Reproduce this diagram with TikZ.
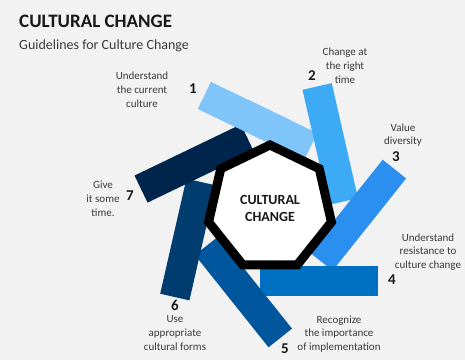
\documentclass[tikz,border=0pt]{standalone}
\usepackage{fontspec}
\setmainfont{Carlito}
\definecolor{bggray}{HTML}{F2F2F2}
\definecolor{txtgray}{HTML}{3A3A3A}
\definecolor{barone}{HTML}{80C5FA}
\definecolor{bartwo}{HTML}{3DAAF6}
\definecolor{barthree}{HTML}{2A8FEF}
\definecolor{barfour}{HTML}{0070C2}
\definecolor{barfive}{HTML}{00569C}
\definecolor{barsix}{HTML}{003C6E}
\definecolor{barseven}{HTML}{00254C}
\tikzstyle{itemtext}=[align=center, font=\fontsize{11}{13.8}\selectfont, text=txtgray, inner sep=0]
\tikzstyle{itemnum}=[font=\fontsize{15}{15}\selectfont\bfseries, text=black!90, inner sep=0]
\tikzstyle{heptaline}=[line width=9, line join=miter, fill=white, draw=black]
\newcommand{\drawbar}[2]{
  \begin{scope}[shift={(270,152)}, rotate=#1]
    \fill[#2] (-10,-88) rectangle (108,-58);
  \end{scope}
}

\begin{document}
\begin{tikzpicture}[x=1pt, y=1pt]
      \fill[bggray] (0,0) rectangle (465,360);
      \useasboundingbox (0,0) rectangle (465,360);

      \drawbar{154.29}{barone}
      \drawbar{102.86}{bartwo}
      \drawbar{51.43}{barthree}
      \drawbar{0}{barfour}
      \drawbar{-51.43}{barfive}
      \drawbar{-102.86}{barsix}
      \drawbar{-154.29}{barseven}
      % bar 1 lies over the end of bar 7
      \begin{scope}
        \clip (200,200) rectangle (290,260);
        \drawbar{154.29}{barone}
      \end{scope}

      \begin{scope}[shift={(270,152)}]
        \draw[heptaline] (90:63) -- (141.43:63) -- (192.86:63) -- (244.29:63) -- (295.71:63) -- (347.14:63) -- (38.57:63) -- cycle;
        \node[align=center, font=\fontsize{14}{17}\selectfont\bfseries, text=black!90] (core) at (0,0) {CULTURAL\\CHANGE};
      \end{scope}

      \node[anchor=west, font=\fontsize{19}{19}\selectfont\bfseries, text=black!90, inner sep=0] (title) at (19,339) {CULTURAL CHANGE};
      \node[anchor=west, font=\fontsize{14}{14}\selectfont, text=txtgray, inner sep=0] (subtitle) at (19,314) {Guidelines for Culture Change};

      \node[itemtext] (txt1) at (142,270) {Understand\\the current\\culture};
      \node[itemnum] (num1) at (193,271) {1};
      \node[itemtext] (txt2) at (345,294) {Change at\\the right\\time};
      \node[itemnum] (num2) at (312,284) {2};
      \node[itemtext] (txt3) at (403,225) {Value\\diversity};
      \node[itemnum] (num3) at (396,203) {3};
      \node[itemtext] (txt4) at (428,108) {Understand\\resistance to\\culture change};
      \node[itemnum] (num4) at (392,80) {4};
      \node[itemtext] (txt5) at (339,26) {Recognize\\the importance\\of implementation};
      \node[itemnum] (num5) at (285,11) {5};
      \node[itemtext] (txt6) at (175,27) {Use\\appropriate\\cultural forms};
      \node[itemnum] (num6) at (175,55) {6};
      \node[itemtext] (txt7) at (103,161) {Give\\it some\\time.};
      \node[itemnum] (num7) at (130,164) {7};
\end{tikzpicture}
\end{document}
